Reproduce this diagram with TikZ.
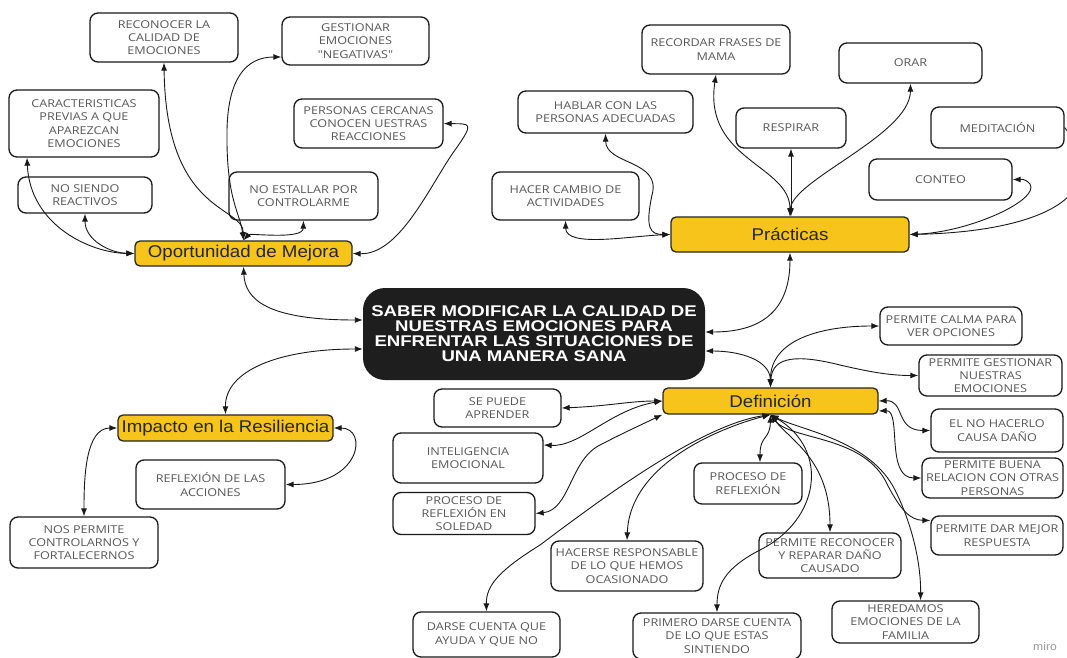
\documentclass[tikz,border=0pt]{standalone}
\usepackage{fontspec}
\usetikzlibrary{arrows.meta}
\newfontfamily\boxfont[FakeStretch=1.17]{Open Sans}
\newfontfamily\hdfont[FakeStretch=1.1]{Liberation Sans}
\newfontfamily\cenfont[FakeStretch=1.2]{Liberation Sans}
\definecolor{txtgray}{RGB}{88,88,88}
\definecolor{ylw}{RGB}{246,196,26}
\definecolor{cblack}{RGB}{30,30,30}
\tikzset{
  box/.style={draw=black!90, line width=1.3bp, rounded corners=8bp, fill=white,
    align=center, inner sep=0pt, text=txtgray,
    font=\boxfont\fontsize{10.8bp}{13.3bp}\selectfont},
  ybox/.style={draw=black!85, line width=1.3bp, rounded corners=5bp, fill=ylw,
    align=center, inner sep=0pt, text=black!85,
    font=\hdfont\fontsize{17bp}{20bp}\selectfont},
  cbox/.style={fill=cblack, rounded corners=22bp, align=center, inner sep=0pt,
    text=white, font=\cenfont\bfseries\fontsize{15.5bp}{15bp}\selectfont},
  conn/.style={draw=black!90, line width=0.9bp},
  dbl/.style={conn, {Latex[length=8bp,width=6bp]}-{Latex[length=8bp,width=6bp]}},
  sgl/.style={conn, -{Latex[length=8bp,width=6bp]}},
}
\begin{document}
\begin{tikzpicture}[x=1bp,y=-1bp]
\fill[white] (0,0) rectangle (1067,658);
\useasboundingbox (0,0) rectangle (1067,658);

% ---------- Oportunidad de Mejora ----------
\node[box, minimum width=148bp, minimum height=49bp] (rec) at (164,37.5) {RECONOCER LA\\CALIDAD DE\\EMOCIONES};
\node[box, minimum width=147bp, minimum height=48bp] (ges) at (355.5,41) {GESTIONAR\\EMOCIONES\\"NEGATIVAS"};
\node[box, minimum width=150bp, minimum height=67bp] (car) at (84,123.5) {CARACTERISTICAS\\PREVIAS A QUE\\APAREZCAN\\EMOCIONES};
\node[box, minimum width=149bp, minimum height=49bp] (per) at (368.5,123.5) {PERSONAS CERCANAS\\CONOCEN UESTRAS\\REACCIONES};
\node[box, minimum width=134bp, minimum height=36bp] (nsr) at (85,195) {NO SIENDO\\REACTIVOS};
\node[box, minimum width=149bp, minimum height=48bp] (nes) at (303.5,196) {NO ESTALLAR POR\\CONTROLARME};
\node[ybox, minimum width=217bp, minimum height=25bp] (opo) at (243.5,253.5) {Oportunidad de Mejora};

% ---------- Central ----------
\node[cbox, minimum width=342bp, minimum height=92bp] (cen) at (534,334) {SABER MODIFICAR LA CALIDAD DE\\NUESTRAS EMOCIONES PARA\\ENFRENTAR LAS SITUACIONES DE\\UNA MANERA SANA};

% ---------- Practicas ----------
\node[ybox, minimum width=238bp, minimum height=35bp] (pra) at (790,234.5) {Prácticas};
\node[box, minimum width=147bp, minimum height=48bp] (hcd) at (565.5,196) {HACER CAMBIO DE\\ACTIVIDADES};
\node[box, minimum width=175bp, minimum height=42bp] (hab) at (605.5,112) {HABLAR CON LAS\\PERSONAS ADECUADAS};
\node[box, minimum width=148bp, minimum height=49bp] (rfm) at (716,49.5) {RECORDAR FRASES DE\\MAMA};
\node[box, minimum width=110bp, minimum height=40bp] (res) at (791,128) {RESPIRAR};
\node[box, minimum width=143bp, minimum height=40bp] (ora) at (910.5,63) {ORAR};
\node[box, minimum width=133bp, minimum height=41bp] (med) at (997.5,127.5) {MEDITACIÓN};
\node[box, minimum width=143bp, minimum height=41bp] (con) at (940.5,179.5) {CONTEO};

% ---------- Definicion ----------
\node[ybox, minimum width=215bp, minimum height=26bp] (def) at (770.5,401) {Definición};
\node[box, minimum width=127bp, minimum height=38bp] (spa) at (497.5,408) {SE PUEDE\\APRENDER};
\node[box, minimum width=150bp, minimum height=50bp] (ine) at (468,458) {INTELIGENCIA\\EMOCIONAL};
\node[box, minimum width=142bp, minimum height=42bp] (prs) at (464,513.5) {PROCESO DE\\REFLEXIÓN EN\\SOLEDAD};
\node[box, minimum width=108bp, minimum height=41bp] (prf) at (748,483.5) {PROCESO DE\\REFLEXIÓN};
\node[box, minimum width=152bp, minimum height=50bp] (hre) at (627,566) {HACERSE RESPONSABLE\\DE LO QUE HEMOS\\OCASIONADO};
\node[box, minimum width=142bp, minimum height=45bp] (prc) at (830,555.5) {PERMITE RECONOCER\\Y REPARAR DAÑO\\CAUSADO};
\node[box, minimum width=132bp, minimum height=39bp] (pdm) at (997,535.5) {PERMITE DAR MEJOR\\RESPUESTA};
\node[box, minimum width=147bp, minimum height=45bp] (dcq) at (486.5,634.5) {DARSE CUENTA QUE\\AYUDA Y QUE NO};
\node[box, minimum width=168bp, minimum height=46bp] (pdc) at (717,636) {PRIMERO DARSE CUENTA\\DE LO QUE ESTAS\\SINTIENDO};
\node[box, minimum width=147bp, minimum height=42bp] (her) at (905.5,622) {HEREDAMOS\\EMOCIONES DE LA\\FAMILIA};
\node[box, minimum width=142bp, minimum height=38bp] (pcv) at (951,326) {PERMITE CALMA PARA\\VER OPCIONES};
\node[box, minimum width=143bp, minimum height=41bp] (pge) at (990.5,375.5) {PERMITE GESTIONAR\\NUESTRAS\\EMOCIONES};
\node[box, minimum width=132bp, minimum height=43bp] (enh) at (997,430.5) {EL NO HACERLO\\CAUSA DAÑO};
\node[box, minimum width=141bp, minimum height=40bp] (pbr) at (992.5,478) {PERMITE BUENA\\RELACION CON OTRAS\\PERSONAS};

% ---------- Impacto ----------
\node[ybox, minimum width=215bp, minimum height=26bp] (imp) at (225.5,428) {Impacto en la Resiliencia};
\node[box, minimum width=149bp, minimum height=49bp] (rda) at (210.5,484.5) {REFLEXIÓN DE LAS\\ACCIONES};
\node[box, minimum width=148bp, minimum height=51bp] (npc) at (84,542.5) {NOS PERMITE\\CONTROLARNOS Y\\FORTALECERNOS};

\node[text=black!40, font=\hdfont\fontsize{11bp}{12bp}\selectfont] (miro) at (1045,647) {miro};

% ---------- connectors: Oportunidad ----------
\draw[dbl] (opo.south) .. controls (245,300) and (268,320) .. ([yshift=14bp]cen.west);
\draw[dbl] (nsr.south) .. controls (85,240) and (110,253) .. (opo.west);
\draw[dbl] ([xshift=-57bp]car.south) .. controls (30,225) and (90,253) .. (opo.west);
\draw[dbl] (rec.south) .. controls (166,215) and (243,205) .. (opo.north);
\draw[dbl] ([yshift=-16bp]ges.west) .. controls (245,57) and (228,80) .. (227,130) .. controls (226,200) and (240,212) .. (opo.north);
\draw[dbl] (opo.north) .. controls (250,233) and (303,240) .. (nes.south);
\draw[dbl] (opo.east) .. controls (400,255) and (430,185) .. (455,150) .. controls (475,122) and (470,124) .. (per.east);

% ---------- connectors: Practicas ----------
\draw[dbl] (pra.south) .. controls (790,320) and (750,332) .. ([yshift=2bp]cen.east);
\draw[dbl] (hcd.south) .. controls (566,248) and (630,236) .. (pra.west);
\draw[dbl] (hab.south) .. controls (606,165) and (662,160) .. (652,195) .. controls (645,228) and (650,234.5) .. (pra.west);
\draw[dbl] (rfm.south) .. controls (703,160) and (790,165) .. (pra.north);
\draw[dbl] (res.south) -- (res.south|-pra.north);
\draw[dbl] (pra.north) .. controls (792,180) and (910,135) .. (ora.south);
\draw[dbl] (pra.east) .. controls (970,232) and (1040,200) .. (1030,184) .. controls (1025,178) and (1020,179.5) .. (con.east);
\draw[sgl] (med.east) .. controls (1120,200) and (1030,232) .. (pra.east);

% ---------- connectors: Definicion ----------
\draw[dbl] (def.north) .. controls (770,360) and (740,351) .. ([yshift=-17bp]cen.east);
\draw[dbl] (def.north) .. controls (770,340) and (820,326) .. (pcv.west);
\draw[dbl] (def.north) .. controls (772,355) and (800,355) .. (840,365) .. controls (870,372) and (890,375.5) .. (pge.west);
\draw[dbl] (def.east) .. controls (905,400) and (895,430.5) .. (enh.west);
\draw[dbl] ([yshift=-10bp]def.east) .. controls (902,410) and (885,478) .. (pbr.west);
\draw[dbl] (def.south) .. controls (790,440) and (860,435) .. (885,480) .. controls (900,510) and (910,520) .. ([yshift=15bp]pdm.west);
\draw[dbl] (def.south) .. controls (770,440) and (760,435) .. ([xshift=12bp]prf.north);
\draw[dbl] (def.south) .. controls (730,425) and (630,460) .. (hre.north);
\draw[dbl] (def.south) .. controls (790,440) and (830,460) .. (prc.north);
\draw[dbl] (def.south) .. controls (830,450) and (820,520) .. (760,550) .. controls (725,568) and (717,585) .. (pdc.north);
\draw[dbl] (def.south) .. controls (800,430) and (870,440) .. (895,490) .. controls (915,530) and (921,570) .. ([xshift=15bp]her.north);
\draw[dbl] (def.south) .. controls (700,425) and (600,500) .. (540,545) .. controls (500,570) and (486,585) .. (dcq.north);
\draw[dbl] (spa.east) .. controls (610,406) and (630,401) .. (def.west);
\draw[dbl] ([yshift=13bp]ine.east) .. controls (580,447) and (610,410) .. (def.west);
\draw[dbl] (prs.east) .. controls (570,510) and (570,460) .. (600,445) .. controls (625,432) and (645,423) .. (def.south west);

% ---------- connectors: Impacto ----------
\draw[dbl] (imp.north) .. controls (225,370) and (280,349) .. ([yshift=-15bp]cen.west);
\draw[dbl] (imp.east) .. controls (368,428) and (362,484.5) .. (rda.east);
\draw[dbl] (imp.west) .. controls (85,428) and (84,480) .. (npc.north);
\end{tikzpicture}
\end{document}
